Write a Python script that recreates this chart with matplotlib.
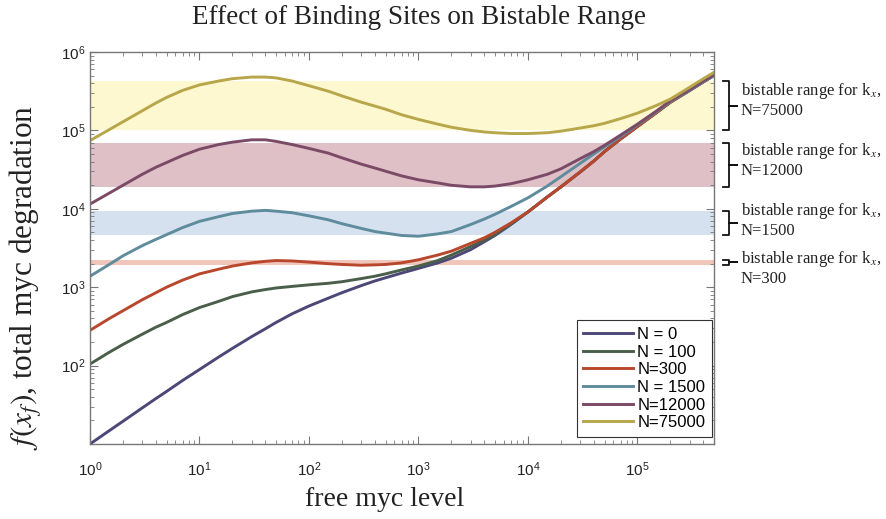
import matplotlib.pyplot as plt
import numpy as np

plt.rcParams['font.family'] = ['Liberation Sans', 'DejaVu Sans']
SERIF = ['Liberation Serif', 'DejaVu Serif']

# free myc level on the x axis
free_myc = [1, 1.5, 2, 3, 4, 5, 7,
            10, 15, 20, 30, 40, 50, 70,
            100, 150, 200, 300, 400, 500, 700,
            1e3, 1.5e3, 2e3, 3e3, 4e3, 5e3, 7e3,
            1e4, 1.5e4, 2e4, 3e4, 4e4, 5e4, 7e4,
            1e5, 1.5e5, 2e5, 3e5, 4e5, 5e5]

# total myc degradation f(x_f), stored as log10 values
log_deg_n0 = [1.00, 1.17, 1.29, 1.46, 1.58, 1.67, 1.81,
              1.95, 2.11, 2.22, 2.37, 2.47, 2.55, 2.66,
              2.76, 2.86, 2.93, 3.02, 3.08, 3.12, 3.18,
              3.24, 3.31, 3.37, 3.48, 3.58, 3.66, 3.80,
              3.96, 4.15, 4.28, 4.47, 4.61, 4.73, 4.89,
              5.05, 5.23, 5.36, 5.51, 5.62, 5.70]
log_deg_n100 = [2.02, 2.17, 2.27, 2.40, 2.49, 2.55, 2.65,
                2.74, 2.82, 2.88, 2.94, 2.97, 2.99, 3.01,
                3.03, 3.05, 3.07, 3.11, 3.14, 3.17, 3.22,
                3.27, 3.34, 3.41, 3.52, 3.60, 3.67, 3.81,
                3.96, 4.15, 4.28, 4.47, 4.61, 4.73, 4.89,
                5.05, 5.23, 5.36, 5.51, 5.62, 5.70]
log_deg_n300 = [2.45, 2.60, 2.70, 2.84, 2.93, 3.00, 3.09,
                3.17, 3.23, 3.27, 3.31, 3.33, 3.34, 3.335,
                3.32, 3.30, 3.29, 3.28, 3.285, 3.29, 3.31,
                3.35, 3.41, 3.46, 3.56, 3.63, 3.70, 3.82,
                3.96, 4.15, 4.28, 4.47, 4.61, 4.73, 4.89,
                5.05, 5.23, 5.36, 5.51, 5.62, 5.70]
log_deg_n1500 = [3.14, 3.29, 3.40, 3.53, 3.61, 3.67, 3.76,
                 3.84, 3.90, 3.94, 3.97, 3.98, 3.97, 3.95,
                 3.91, 3.86, 3.81, 3.75, 3.71, 3.69, 3.66,
                 3.65, 3.68, 3.71, 3.80, 3.87, 3.93, 4.03,
                 4.14, 4.29, 4.41, 4.58, 4.70, 4.79, 4.92,
                 5.07, 5.24, 5.37, 5.51, 5.62, 5.70]
log_deg_n12000 = [4.06, 4.20, 4.30, 4.44, 4.53, 4.59, 4.68,
                  4.76, 4.82, 4.85, 4.88, 4.88, 4.86, 4.82,
                  4.77, 4.71, 4.65, 4.57, 4.52, 4.48, 4.42,
                  4.37, 4.33, 4.30, 4.28, 4.28, 4.29, 4.32,
                  4.37, 4.44, 4.51, 4.64, 4.73, 4.81, 4.94,
                  5.08, 5.25, 5.38, 5.52, 5.63, 5.71]
log_deg_n75000 = [4.87, 5.01, 5.11, 5.25, 5.35, 5.42, 5.51,
                  5.58, 5.63, 5.66, 5.68, 5.68, 5.67, 5.63,
                  5.57, 5.50, 5.44, 5.36, 5.31, 5.27, 5.20,
                  5.14, 5.08, 5.04, 5.00, 4.98, 4.97, 4.96,
                  4.96, 4.97, 4.99, 5.03, 5.06, 5.09, 5.15,
                  5.22, 5.32, 5.40, 5.55, 5.66, 5.74]

labels = ['N = 0', 'N = 100', 'N=300', 'N = 1500', 'N=12000', 'N=75000']
colors = ['#4b4878', '#4a5f4a', '#b9472d', '#5f8c9c', '#7b4a66', '#b8a64a']
curves = [log_deg_n0, log_deg_n100, log_deg_n300,
          log_deg_n1500, log_deg_n12000, log_deg_n75000]

# bistable ranges (low, high) for N = 75000, 12000, 1500, 300
band_low = [1.0e5, 1.9e4, 4.7e3, 1.9e3]
band_high = [4.3e5, 7.0e4, 9.3e3, 2.25e3]
band_colors = ['#fdf8d0', '#dfc0c7', '#d5e1ef', '#f0c6ba']
band_names = ['N=75000', 'N=12000', 'N=1500', 'N=300']
text_y_px = [100, 160, 220, 268]

W, H = 887, 519
fig = plt.figure(figsize=(W / 100, H / 100), dpi=100)
ax = fig.add_axes([90 / W, 75 / H, 624 / W, 392 / H])

for lo, hi, c in zip(band_low, band_high, band_colors):
    ax.axhspan(lo, hi, color=c, lw=0, zorder=0)

for ys, c, lab in zip(curves, colors, labels):
    ax.plot(free_myc, 10 ** np.array(ys), color=c, lw=2.1, label=lab, zorder=2)

ax.set_xscale('log')
ax.set_yscale('log')
ax.set_xlim(1, 5e5)
ax.set_ylim(10, 1e6)
ax.set_yticks([1e2, 1e3, 1e4, 1e5, 1e6])

for s in ax.spines.values():
    s.set_color('#777777')
    s.set_linewidth(1.0)
ax.tick_params(which='both', direction='in', top=True, right=True,
               colors='#777777', labelcolor='#222222', labelsize=11)
ax.tick_params(which='major', length=6)
ax.tick_params(which='minor', length=3)
ax.tick_params(axis='x', pad=12)

leg = ax.legend(loc='lower right', bbox_to_anchor=(0.997, 0.018), borderaxespad=0,
                fontsize=12, handlelength=3.0, handletextpad=0.25, labelspacing=0.16,
                fancybox=False, framealpha=1, borderpad=0.4)
leg.get_frame().set_edgecolor('#333333')
leg.get_frame().set_linewidth(0.8)

# curly brackets marking each bistable range, outside the right spine
trans = ax.get_yaxis_transform()
x0, x1, x2 = 1.0144, 1.024, 1.037
for lo, hi in zip(band_low, band_high):
    mid = np.sqrt(lo * hi)
    ax.plot([x0, x1, x1, x2, x1, x1, x0], [hi, hi, mid, mid, mid, lo, lo],
            transform=trans, clip_on=False, color='#111111', lw=1.3)

for name, ypx in zip(band_names, text_y_px):
    fig.text(741 / W, 1 - ypx / H, 'bistable range for k$_x$,\n' + name,
             ha='left', va='center', fontsize=12, family=SERIF,
             math_fontfamily='stix', linespacing=1.15, color='#222222')

fig.text(419 / W, 1 - 17 / H, 'Effect of Binding Sites on Bistable Range',
         ha='center', va='center', fontsize=19.5, family=SERIF, color='#222222')
fig.text(385 / W, 1 - 499 / H, 'free myc level', ha='center', va='center',
         fontsize=20, family=SERIF, color='#222222')
fig.text(27 / W, 1 - 277 / H, r'$f(x_f)$, total myc degradation', ha='center',
         va='center', rotation=90, fontsize=22.5, family=SERIF,
         math_fontfamily='stix', color='#222222')

fig.savefig('out.png', dpi=100)
